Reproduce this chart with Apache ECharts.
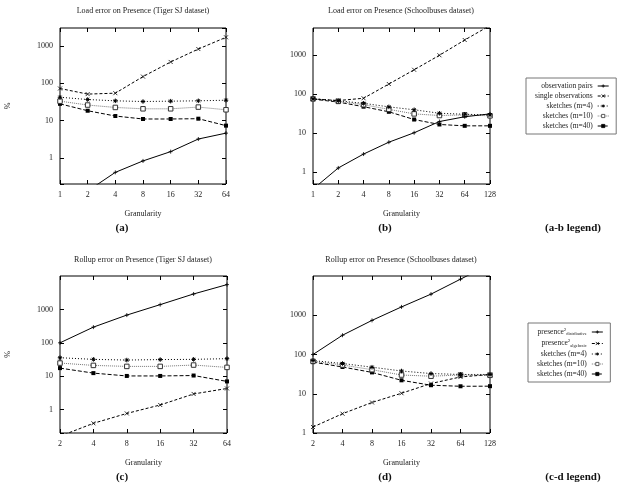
<!DOCTYPE html>
<html>
<head>
<meta charset="utf-8">
<script src="https://cdn.jsdelivr.net/npm/echarts@6/dist/echarts.min.js"></script>
<style>html,body{margin:0;padding:0;background:#fff}#c{width:623px;height:483px}</style>
</head>
<body>
<div id="c"></div>
<script>
// ---- data ----
const granA = [1, 2, 4, 8, 16, 32, 64];
const granB = [1, 2, 4, 8, 16, 32, 64, 128];
const granC = [2, 4, 8, 16, 32, 64];
const granD = [2, 4, 8, 16, 32, 64, 128];

const obsPairsA  = [0.06, 0.13, 0.41, 0.83, 1.47, 3.2, 4.6];
const singleObsA = [72, 51, 54, 150, 370, 820, 1690];
const m4A  = [42, 36.5, 33.7, 32.3, 33, 33.7, 35];
const m10A = [33, 26, 22.4, 20.6, 20.6, 22.9, 19.4];
const m40A = [28, 18.3, 13.2, 11, 11, 11.2, 7.3];

const obsPairsB  = [0.37, 1.29, 2.93, 5.9, 10.3, 20, 26.5, 31.4];
const singleObsB = [76, 69, 79, 183, 424, 1000, 2460, 5800];
const m4B  = [77, 68, 58.6, 47.5, 40, 32.6, 30.7, 29.5];
const m10B = [76, 66, 54, 41, 31.4, 28.5, 29.5, 28];
const m40B = [75, 63, 48, 35.5, 22.5, 16.8, 15.5, 15.5];

const distC = [100, 295, 676, 1390, 2900, 5530];
const algC  = [0.16, 0.39, 0.77, 1.38, 2.95, 4.3];
const m4C  = [35.8, 32, 30.5, 31.5, 32, 33.6];
const m10C = [24.8, 21.1, 19.7, 19.7, 21.6, 18.4];
const m40C = [17.5, 12.4, 10.2, 10.2, 10.5, 7];

const distD = [100, 310, 740, 1630, 3450, 8300, 20000];
const algD  = [1.42, 3.1, 6.0, 10.3, 18.2, 26.8, 30.9];
const m4D  = [70, 59, 47.5, 38, 32.7, 31, 31];
const m10D = [67, 54, 41, 30, 28, 30, 29.5];
const m40D = [64, 48, 35, 22, 16.5, 15.5, 15.6];

const titles = [
  'Load error on Presence (Tiger SJ dataset)',
  'Load error on Presence (Schoolbuses dataset)',
  'Rollup error on Presence (Tiger SJ dataset)',
  'Rollup error on Presence (Schoolbuses dataset)'
];
const captions = ['(a)', '(b)', '(a-b legend)', '(c)', '(d)', '(c-d legend)'];
const namesAB = ['observation pairs', 'single observations', 'sketches (m=4)', 'sketches (m=10)', 'sketches (m=40)'];
const namesCD = ['presence2_distributive', 'presence2_algebraic', 'sketches (m=4)', 'sketches (m=10)', 'sketches (m=40)'];

// ---- styling ----
const FONT = 'Liberation Serif';
const SYM_PLUS = 'path://M0,5L10,5M5,0L5,10';
const SYM_CROSS = 'path://M0,0L10,10M0,10L10,0';
const SYM_STAR = 'path://M0,5L10,5M5,0L5,10M1.5,1.5L8.5,8.5M1.5,8.5L8.5,1.5';

const styles = [
  {symbol: SYM_PLUS, size: 4, line: {type: 'solid', width: 1, color: '#000'}, item: {color: '#000', borderColor: '#000', borderWidth: 0.8}},
  {symbol: SYM_CROSS, size: 4, line: {type: [3, 2], width: 1, color: '#000'}, item: {color: '#000', borderColor: '#000', borderWidth: 0.8}},
  {symbol: SYM_STAR, size: 4.5, line: {type: [1, 2], width: 1, color: '#000'}, item: {color: '#000', borderColor: '#000', borderWidth: 1}},
  {symbol: 'rect', size: 4.5, line: {type: [1, 1], width: 1, color: '#777'}, item: {color: '#fff', borderColor: '#333', borderWidth: 1}},
  {symbol: 'rect', size: 4, line: {type: [4, 2], width: 1, color: '#000'}, item: {color: '#000', borderColor: '#000', borderWidth: 0}}
];

const grids = [
  {left: 60, top: 28, width: 166, height: 156},
  {left: 313, top: 28, width: 177, height: 156},
  {left: 60, top: 276, width: 167, height: 157},
  {left: 313, top: 276, width: 177, height: 157}
];
const xRanges = [[1, 64], [1, 128], [2, 64], [2, 128]];
const yRanges = [[0.2, 3000], [0.5, 5000], [0.2, 10000], [1, 10000]];

function isPow10(v) {
  const l = Math.log10(v);
  return Math.abs(l - Math.round(l)) < 1e-6;
}

const xAxes = [], yAxes = [];
grids.forEach((g, i) => {
  const common = {type: 'log', gridIndex: i, axisLine: {show: false}, splitLine: {show: false}};
  xAxes.push(Object.assign({}, common, {
    logBase: 2, min: xRanges[i][0], max: xRanges[i][1], interval: 1, position: 'bottom',
    axisTick: {inside: true, length: 4, lineStyle: {color: '#000'}},
    axisLabel: {fontFamily: FONT, fontSize: 8, color: '#222', margin: 7, showMinLabel: true, showMaxLabel: true,
      formatter: v => String(Math.round(v))},
    name: 'Granularity', nameLocation: 'middle', nameGap: 26,
    nameTextStyle: {fontFamily: FONT, fontSize: 8, color: '#222'}
  }));
  xAxes.push(Object.assign({}, common, {
    logBase: 2, min: xRanges[i][0], max: xRanges[i][1], interval: 1, position: 'top',
    axisTick: {inside: true, length: 4, lineStyle: {color: '#000'}}, axisLabel: {show: false}
  }));
  const yl = {
    logBase: 10, min: yRanges[i][0], max: yRanges[i][1], position: 'left',
    axisTick: {inside: true, length: 4, lineStyle: {color: '#000'}},
    axisLabel: {fontFamily: FONT, fontSize: 8, color: '#222', margin: 7, showMaxLabel: false,
      formatter: v => (isPow10(v) ? String(Math.round(v)) : '')}
  };
  if (i === 0 || i === 2) {
    yl.name = '%'; yl.nameLocation = 'middle'; yl.nameGap = 48; yl.nameRotate = 90;
    yl.nameTextStyle = {fontFamily: FONT, fontSize: 8, color: '#222'};
  }
  yAxes.push(Object.assign({}, common, yl));
  yAxes.push(Object.assign({}, common, {
    logBase: 10, min: yRanges[i][0], max: yRanges[i][1], position: 'right',
    axisTick: {inside: true, length: 4, lineStyle: {color: '#000'}}, axisLabel: {show: false}
  }));
});

const plotData = [
  {gran: granA, names: namesAB, vals: [obsPairsA, singleObsA, m4A, m10A, m40A]},
  {gran: granB, names: namesAB, vals: [obsPairsB, singleObsB, m4B, m10B, m40B]},
  {gran: granC, names: namesCD, vals: [distC, algC, m4C, m10C, m40C]},
  {gran: granD, names: namesCD, vals: [distD, algD, m4D, m10D, m40D]}
];

const series = [];
plotData.forEach((p, gi) => {
  p.vals.forEach((arr, si) => {
    const st = styles[si];
    series.push({
      type: 'line', name: p.names[si], xAxisIndex: gi * 2, yAxisIndex: gi * 2,
      data: arr.map((v, k) => [p.gran[k], v]),
      symbol: st.symbol, symbolSize: st.size, showAllSymbol: true,
      lineStyle: st.line, itemStyle: st.item, clip: true, animation: false, z: 10 - si
    });
  });
});

const graphics = [];
const titlePos = [[143, 11], [401, 11], [143, 260], [401, 260]];
titles.forEach((t, i) => graphics.push({type: 'text', x: titlePos[i][0], y: titlePos[i][1],
  style: {text: t, font: '8px "' + FONT + '"', fill: '#222', textAlign: 'center', textVerticalAlign: 'middle'}}));
const capPos = [[122, 228], [385, 228], [573, 228], [122, 477], [385, 477], [573, 477]];
captions.forEach((t, i) => graphics.push({type: 'text', x: capPos[i][0], y: capPos[i][1],
  style: {text: t, font: 'bold 11px "' + FONT + '"', fill: '#111', textAlign: 'center', textVerticalAlign: 'middle'}}));

const legendBase = {
  orient: 'vertical', align: 'right', itemWidth: 11, itemHeight: 4, itemGap: 2,
  padding: [4, 7, 4, 9], borderColor: '#777', borderWidth: 1, backgroundColor: '#fff',
  lineStyle: {width: 1},
  itemStyle: {borderWidth: 0.8},
  textStyle: {fontFamily: FONT, fontSize: 7.5, color: '#222',
    rich: {m: {fontFamily: FONT, fontSize: 7.5, color: '#222'},
           sup: {fontFamily: FONT, fontSize: 5, color: '#222', padding: [0, 0, 5, 0]},
           sub: {fontFamily: FONT, fontSize: 4.5, color: '#222', padding: [4, 0, 0, 0]}}},
  selectedMode: false
};
const legends = [
  Object.assign({}, legendBase, {left: 526, top: 78, data: namesAB}),
  Object.assign({}, legendBase, {left: 528, top: 323, data: namesCD,
    formatter: n => {
      if (n.indexOf('presence2_') === 0) return '{m|presence}{sup|2}{sub|' + n.slice(10) + '}';
      return n;
    }})
];

const chart = echarts.init(document.getElementById('c'), null, {renderer: 'canvas'});
chart.setOption({
  animation: false,
  backgroundColor: '#fff',
  grid: grids.map(g => Object.assign({show: true, borderColor: '#000', borderWidth: 1, backgroundColor: 'transparent', containLabel: false}, g)),
  xAxis: xAxes,
  yAxis: yAxes,
  legend: legends,
  series: series,
  graphic: graphics
});
</script>
</body>
</html>
